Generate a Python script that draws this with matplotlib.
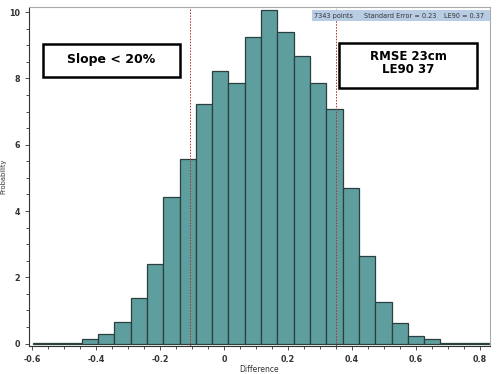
import matplotlib.pyplot as plt
import matplotlib.patches as patches
import numpy as np
from matplotlib.ticker import MultipleLocator

# histogram bins (28 equal bins) and probability heights
bin_start = -0.597
bin_stop = 0.829
heights = [0.01, 0.01, 0.03, 0.14, 0.30, 0.65, 1.39, 2.39, 4.41, 5.58,
           7.23, 8.21, 7.85, 9.24, 10.06, 9.41, 8.69, 7.87, 7.09, 4.70,
           2.63, 1.25, 0.63, 0.23, 0.13, 0.03, 0.005, 0.02]
limits = [-0.105, 0.351]
info_items = ["7343 points", "Standard Error = 0.23", "LE90 = 0.37"]
left_label = "Slope < 20%"
right_label = "RMSE 23cm\nLE90 37"

edges = np.linspace(bin_start, bin_stop, len(heights) + 1)
width = edges[1] - edges[0]

fig = plt.figure(figsize=(5, 3.74), dpi=100)
ax = fig.add_axes([0.058, 0.075, 0.922, 0.906])

ax.bar(edges[:-1], heights, width=width, align='edge',
       color='#5f9e9e', edgecolor='#2b3f3f', linewidth=0.9)

for x in limits:
    ax.axvline(x, color='#b03030', linestyle=(0, (1.5, 1.5)), linewidth=0.7)

ax.set_xlim(-0.609, 0.831)
ax.set_ylim(-0.07, 10.15)
ax.xaxis.set_major_locator(MultipleLocator(0.2))
ax.xaxis.set_minor_locator(MultipleLocator(0.05))
ax.yaxis.set_major_locator(MultipleLocator(2))
ax.yaxis.set_minor_locator(MultipleLocator(0.5))
ax.tick_params(which='both', direction='out', colors='#333333', labelsize=5.8, width=0.6)
ax.tick_params(which='major', length=3)
ax.tick_params(which='minor', length=2)
ax.set_xticks(ax.get_xticks())
ax.set_xticklabels(['%g' % t for t in ax.get_xticks()])
for lab in ax.get_xticklabels() + ax.get_yticklabels():
    lab.set_fontweight('bold')
ax.set_xlim(-0.609, 0.831)

for side in ['top', 'right']:
    ax.spines[side].set_color('#aaaaaa')
for side in ['left', 'bottom']:
    ax.spines[side].set_color('#333333')
for s in ax.spines.values():
    s.set_linewidth(0.8)

ax.set_xlabel('Difference', fontsize=5.5, color='#333333', labelpad=1)
ax.set_ylabel('Probability', fontsize=4.8, color='#333333', labelpad=2)

# info strip at the top right
ax.add_patch(patches.Rectangle((0.614, 0.960), 0.386, 0.030, transform=ax.transAxes,
                               facecolor='#b8cce4', edgecolor='none', zorder=4))
for item, xpos in zip(info_items, [0.619, 0.727, 0.901]):
    ax.text(xpos, 0.975, item, transform=ax.transAxes, ha='left', va='center',
            fontsize=4.7, color='#333333', zorder=5)

# annotation boxes
ax.add_patch(patches.Rectangle((0.030, 0.7935), 0.2975, 0.0975, transform=ax.transAxes,
                               facecolor='white', edgecolor='black', linewidth=1.8, zorder=4))
ax.text(0.179, 0.845, left_label, transform=ax.transAxes, ha='center', va='center',
        fontsize=9, fontweight='bold', zorder=5)
ax.add_patch(patches.Rectangle((0.672, 0.761), 0.300, 0.133, transform=ax.transAxes,
                               facecolor='white', edgecolor='black', linewidth=1.8, zorder=4))
ax.text(0.822, 0.835, right_label, transform=ax.transAxes, ha='center', va='center',
        fontsize=8.5, fontweight='bold', linespacing=0.95, zorder=5)

fig.savefig('out.png', dpi=100)
